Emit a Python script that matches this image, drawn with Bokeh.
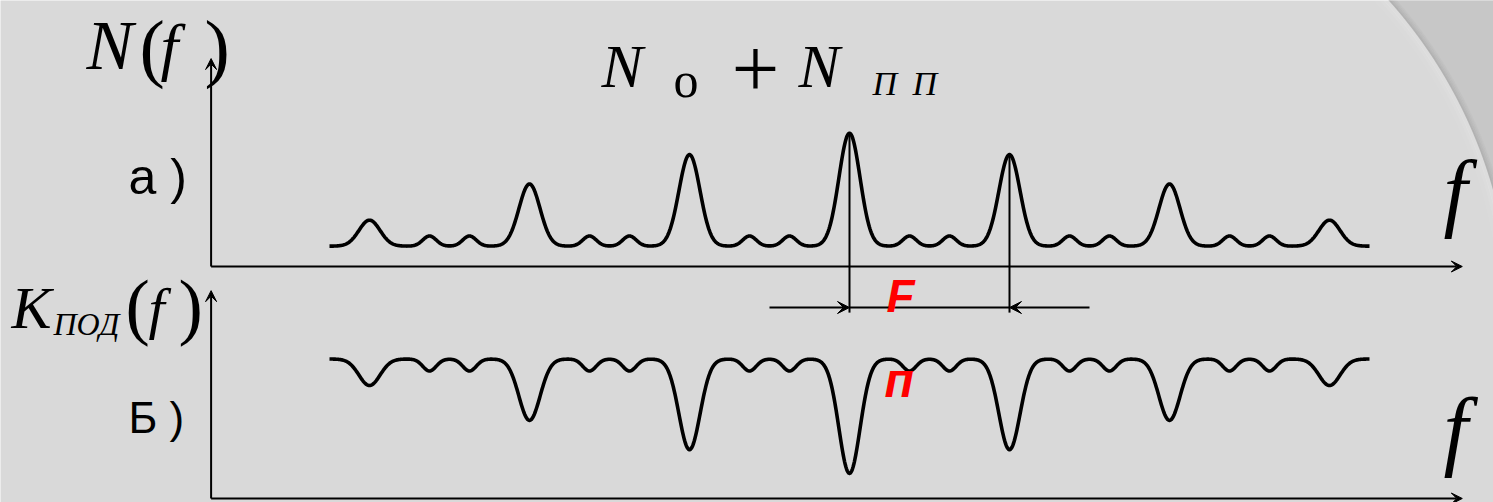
import numpy as np
from bokeh.plotting import figure
from bokeh.models import Range1d, Label, Arrow, VeeHead
from bokeh.embed import file_html
from bokeh.resources import INLINE

# ---- spectrum / filter description (frequency in units of the spacing F) ----
lobe_index = [-3, -2, -1, 0, 1, 2, 3]                 # harmonic number of each main lobe
lobe_height = [0.23, 0.55, 0.81, 1.00, 0.81, 0.55, 0.23]  # N(f) lobe heights above the floor
side_offset = [0.375, 0.625]                           # small side lobes inside each interval
side_height = 0.09
noise_floor = 0.18                                     # N0 level
notch_depth = [0.19, 0.44, 0.65, 0.82, 0.65, 0.44, 0.19]  # K(f) notch depths
side_notch_depth = 0.086
pass_level = 1.0
f_start, f_end = -3.25, 3.25
lobe_width = 0.066
side_width = 0.042

W, H = 1493, 502
BG = "#d9d9d9"

p = figure(width=W, height=H, output_backend="svg", toolbar_location=None,
           x_axis_location=None, y_axis_location=None, min_border=0,
           x_range=Range1d(-849 / 160, (W - 849) / 160),
           y_range=Range1d(-2.0885, 2.354))
p.extra_y_ranges = {"k": Range1d(-0.0287, 3.570), "px": Range1d(H, 0)}
p.extra_x_ranges = {"px": Range1d(0, W)}
p.grid.visible = False
p.outline_line_color = None
p.background_fill_color = BG
p.border_fill_color = BG

# ---- slide decoration: darker band behind a large arc in the upper right ----
cx, cy, R = 1031.5, 319.8, 479.0
th = np.radians(np.linspace(-46, -10, 200))
ax_ = cx + R * np.cos(th)
ay_ = cy + R * np.sin(th)
p.patch(list(ax_) + [1520, 1520], list(ay_) + [ay_[-1], -20],
        x_range_name="px", y_range_name="px", fill_color="#c7c7c7", line_color=None)
for dr, a in [(1, 0.45), (2.5, 0.32), (4, 0.2), (5.5, 0.1)]:
    p.line(cx + (R + dr) * np.cos(th), cy + (R + dr) * np.sin(th),
           x_range_name="px", y_range_name="px", line_color="#9a9a9a",
           line_alpha=a, line_width=1.6)
for dr, a in [(2, 0.12), (5, 0.08), (9, 0.05)]:
    p.line(cx + (R - dr) * np.cos(th), cy + (R - dr) * np.sin(th),
           x_range_name="px", y_range_name="px", line_color="white",
           line_alpha=a, line_width=4)

# ---- curves ----
f = np.linspace(f_start, f_end, 1600)


def lobes(centres, amps, width):
    out = np.zeros_like(f)
    for c, a in zip(centres, amps):
        out += a * np.exp(-0.5 * ((f - c) / width) ** 2)
    return out


side_pos = [k + o for k in lobe_index[:-1] for o in side_offset]
N = (noise_floor + lobes(lobe_index, lobe_height, lobe_width)
     + lobes(side_pos, [side_height] * len(side_pos), side_width))
K = (pass_level - lobes(lobe_index, notch_depth, lobe_width)
     - lobes(side_pos, [side_notch_depth] * len(side_pos), side_width))

p.line(f, N, line_color="black", line_width=3.6, line_join="round")
p.line(f, K, y_range_name="k", line_color="black", line_width=3.6, line_join="round")

# ---- axes with arrows ----
f_axis0, f_axis1 = -3.99, 3.83
head = dict(size=11, fill_color="black", line_color="black", line_width=1)
p.add_layout(Arrow(x_start=f_axis0, y_start=0, x_end=f_axis1, y_end=0,
                   line_width=2, end=VeeHead(**head)))
p.add_layout(Arrow(x_start=f_axis0, y_start=0, x_end=f_axis0, y_end=1.84,
                   line_width=2, end=VeeHead(**head)))
p.add_layout(Arrow(x_start=f_axis0, y_start=0, x_end=f_axis1, y_end=0,
                   y_range_name="k", line_width=2, end=VeeHead(**head)))
p.add_layout(Arrow(x_start=f_axis0, y_start=0, x_end=f_axis0, y_end=1.49,
                   y_range_name="k", line_width=2, end=VeeHead(**head)))

# ---- spacing F between neighbouring lobes ----
y_dim = -0.363
for k in (0, 1):
    top = noise_floor + lobe_height[lobe_index.index(k)]
    p.segment(x0=[k], y0=[top], x1=[k], y1=[y_dim - 0.045],
              line_color="black", line_width=2)
p.segment(x0=[0], y0=[y_dim], x1=[1], y1=[y_dim], line_color="black", line_width=1.8)
dim_head = dict(size=12, fill_color="black", line_color="black", line_width=1)
p.add_layout(Arrow(x_start=-0.5, y_start=y_dim, x_end=0, y_end=y_dim,
                   line_width=1.8, end=VeeHead(**dim_head)))
p.add_layout(Arrow(x_start=1.5, y_start=y_dim, x_end=1, y_end=y_dim,
                   line_width=1.8, end=VeeHead(**dim_head)))

# ---- texts ----
SERIF = "Liberation Serif"
SANS = "Liberation Sans"
texts = [
    # text, x, baseline y, size, font, style, colour
    ("N", 86, 68, 70, SERIF, "italic", "black"),
    ("(", 139, 70, 76, SERIF, "normal", "black"),
    ("f", 160, 68, 64, SERIF, "italic", "black"),
    (")", 204, 70, 76, SERIF, "normal", "black"),
    ("N", 601, 87, 62, SERIF, "italic", "black"),
    ("о", 673, 98, 50, SERIF, "normal", "black"),
    ("+", 731, 94, 85, SERIF, "normal", "black"),
    ("N", 798, 87, 62, SERIF, "italic", "black"),
    ("П", 872, 99, 34, SERIF, "italic", "black"),
    ("П", 912, 99, 34, SERIF, "italic", "black"),
    ("K", 11, 328, 60, SERIF, "italic", "black"),
    ("ПОД", 53, 339, 32, SERIF, "italic", "black"),
    ("(", 125, 329, 73, SERIF, "normal", "black"),
    ("f", 148, 328, 58, SERIF, "italic", "black"),
    (")", 178, 329, 73, SERIF, "normal", "black"),
    ("а )", 128, 195, 50, SANS, "normal", "black"),
    ("Б )", 128, 435, 44, SANS, "normal", "black"),
    ("F", 886, 314, 46, SANS, "bold italic", "#ff0000"),
    ("п", 884, 399, 48, SANS, "bold italic", "#ff0000"),
    ("f", 1443, 216, 86, SERIF, "italic", "black"),
    ("f", 1443, 455, 88, SERIF, "italic", "black"),
]
for t, x, y, s, fnt, sty, col in texts:
    # the label box is anchored slightly below the glyph baseline; lift it
    y_draw = y - (10 + 0.18 * s)
    p.add_layout(Label(x=x, y=y_draw, x_range_name="px", y_range_name="px", text=t,
                       text_font=fnt, text_font_size=f"{s}px", text_font_style=sty,
                       text_color=col, text_align="left", text_baseline="alphabetic"))

open("out.html", "w").write(file_html(p, INLINE))
